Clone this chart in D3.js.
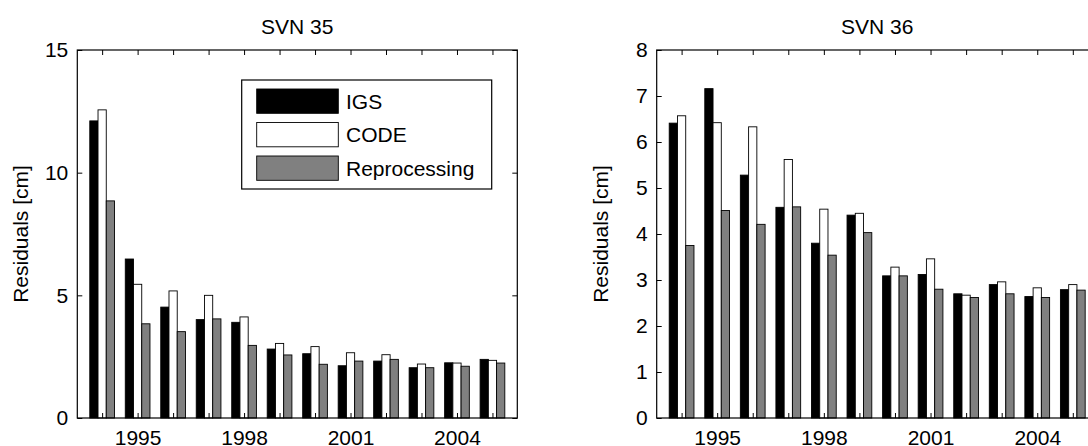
<!DOCTYPE html>
<html>
<head>
<meta charset="utf-8">
<script src="https://cdn.jsdelivr.net/npm/d3@7"></script>
<style>
  body { margin: 0; background: #fff; }
  svg text { font-family: "Liberation Sans", Arial, sans-serif; fill: #000; }
</style>
</head>
<body>
<div id="chart"></div>
<script>
// Data (residuals in cm, per year)
const years = [1994, 1995, 1996, 1997, 1998, 1999, 2000, 2001, 2002, 2003, 2004, 2005];
const yearLabels = [1995, 1998, 2001, 2004];
const seriesNames = ['IGS', 'CODE', 'Reprocessing'];

const svn35Igs   = [12.11, 6.48, 4.52, 4.01, 3.90, 2.81, 2.62, 2.13, 2.32, 2.05, 2.25, 2.39];
const svn35Code  = [12.56, 5.45, 5.18, 5.00, 4.12, 3.04, 2.91, 2.66, 2.58, 2.20, 2.24, 2.35];
const svn35Repro = [8.85, 3.84, 3.52, 4.04, 2.96, 2.57, 2.19, 2.32, 2.39, 2.05, 2.11, 2.24];

const svn36Igs   = [6.41, 7.16, 5.28, 4.58, 3.80, 4.41, 3.09, 3.12, 2.70, 2.90, 2.64, 2.79];
const svn36Code  = [6.57, 6.42, 6.33, 5.62, 4.54, 4.45, 3.28, 3.46, 2.67, 2.96, 2.83, 2.90];
const svn36Repro = [3.75, 4.51, 4.21, 4.59, 3.54, 4.03, 3.09, 2.80, 2.62, 2.70, 2.62, 2.78];

const svn35Ticks = [0, 5, 10, 15];
const svn36Ticks = [0, 1, 2, 3, 4, 5, 6, 7, 8];

const WIDTH = 1088;
const HEIGHT = 446;
const COLORS = ['#000000', '#ffffff', '#808080'];
const BAR_W = 0.232;   // one bar, in years
const TICK = 5;
const FONT = 21;

const svg = d3.select('#chart')
  .append('svg')
  .attr('width', WIDTH)
  .attr('height', HEIGHT);

drawPanel({
  left: 77.3, right: 517.3, top: 50, bottom: 418,
  title: 'SVN 35', yMax: 15, yTicks: svn35Ticks,
  series: [svn35Igs, svn35Code, svn35Repro], legend: true
});

drawPanel({
  left: 656.7, right: 1097.7, top: 50, bottom: 418,
  title: 'SVN 36', yMax: 8, yTicks: svn36Ticks,
  series: [svn36Igs, svn36Code, svn36Repro], legend: false
});

function drawPanel (p) {
  const g = svg.append('g');

  const x = d3.scaleLinear()
    .domain([1993.3, 2005.7])
    .range([p.left, p.right]);

  const y = d3.scaleLinear()
    .domain([0, p.yMax])
    .range([p.bottom, p.top]);

  // bars, three per year
  p.series.forEach((vals, s) => {
    g.append('g')
      .selectAll('rect')
      .data(vals)
      .join('rect')
      .attr('x', (d, i) => x(years[i] + (s - 1.5) * BAR_W))
      .attr('width', x(BAR_W) - x(0))
      .attr('y', d => y(d))
      .attr('height', d => y(0) - y(d))
      .attr('fill', COLORS[s])
      .attr('stroke', '#000')
      .attr('stroke-width', 0.9);
  });

  // axes, MATLAB style: inward ticks on all sides
  const fmtYear = d => yearLabels.includes(d) ? d : '';

  const bottomAxis = d3.axisBottom(x)
    .tickValues(years)
    .tickFormat(fmtYear)
    .tickSizeInner(-TICK)
    .tickSizeOuter(0)
    .tickPadding(12);

  const topAxis = d3.axisTop(x)
    .tickValues(years)
    .tickFormat('')
    .tickSizeInner(-TICK)
    .tickSizeOuter(0);

  const leftAxis = d3.axisLeft(y)
    .tickValues(p.yTicks)
    .tickFormat(d3.format('d'))
    .tickSizeInner(-TICK)
    .tickSizeOuter(0)
    .tickPadding(9);

  const rightAxis = d3.axisRight(y)
    .tickValues(p.yTicks)
    .tickFormat('')
    .tickSizeInner(-TICK)
    .tickSizeOuter(0);

  g.append('g').attr('transform', `translate(0, ${p.bottom})`).call(bottomAxis);
  g.append('g').attr('transform', `translate(0, ${p.top})`).call(topAxis);
  g.append('g').attr('transform', `translate(${p.left}, 0)`).call(leftAxis);
  g.append('g').attr('transform', `translate(${p.right}, 0)`).call(rightAxis);

  g.selectAll('.domain').remove();
  g.selectAll('.tick line').attr('stroke', '#000');
  g.selectAll('.tick text')
    .attr('font-size', FONT)
    .attr('font-family', '"Liberation Sans", Arial, sans-serif')
    .attr('fill', '#000');

  // frame
  g.append('rect')
    .attr('x', p.left)
    .attr('y', p.top)
    .attr('width', p.right - p.left)
    .attr('height', p.bottom - p.top)
    .attr('fill', 'none')
    .attr('stroke', '#000')
    .attr('stroke-width', 1.2);

  // title and y label
  g.append('text')
    .attr('x', (p.left + p.right) / 2)
    .attr('y', 34)
    .attr('text-anchor', 'middle')
    .attr('font-size', FONT)
    .text(p.title);

  g.append('text')
    .attr('transform', `translate(${p.left - 49}, ${(p.top + p.bottom) / 2}) rotate(-90)`)
    .attr('text-anchor', 'middle')
    .attr('font-size', FONT)
    .text('Residuals [cm]');

  if (p.legend) drawLegend(g);
}

function drawLegend (g) {
  const lg = g.append('g');

  lg.append('rect')
    .attr('x', 241.7)
    .attr('y', 80)
    .attr('width', 250)
    .attr('height', 109)
    .attr('fill', '#fff')
    .attr('stroke', '#000')
    .attr('stroke-width', 1.2);

  const rows = lg.selectAll('g.row')
    .data(seriesNames)
    .join('g')
    .attr('class', 'row')
    .attr('transform', (d, i) => `translate(256.7, ${89 + i * 33.5})`);

  rows.append('rect')
    .attr('width', 81.6)
    .attr('height', 24.3)
    .attr('fill', (d, i) => COLORS[i])
    .attr('stroke', '#000')
    .attr('stroke-width', 0.9);

  rows.append('text')
    .attr('x', 89.3)
    .attr('y', 12.2)
    .attr('dy', '0.35em')
    .attr('font-size', FONT)
    .text(d => d);
}
</script>
</body>
</html>
